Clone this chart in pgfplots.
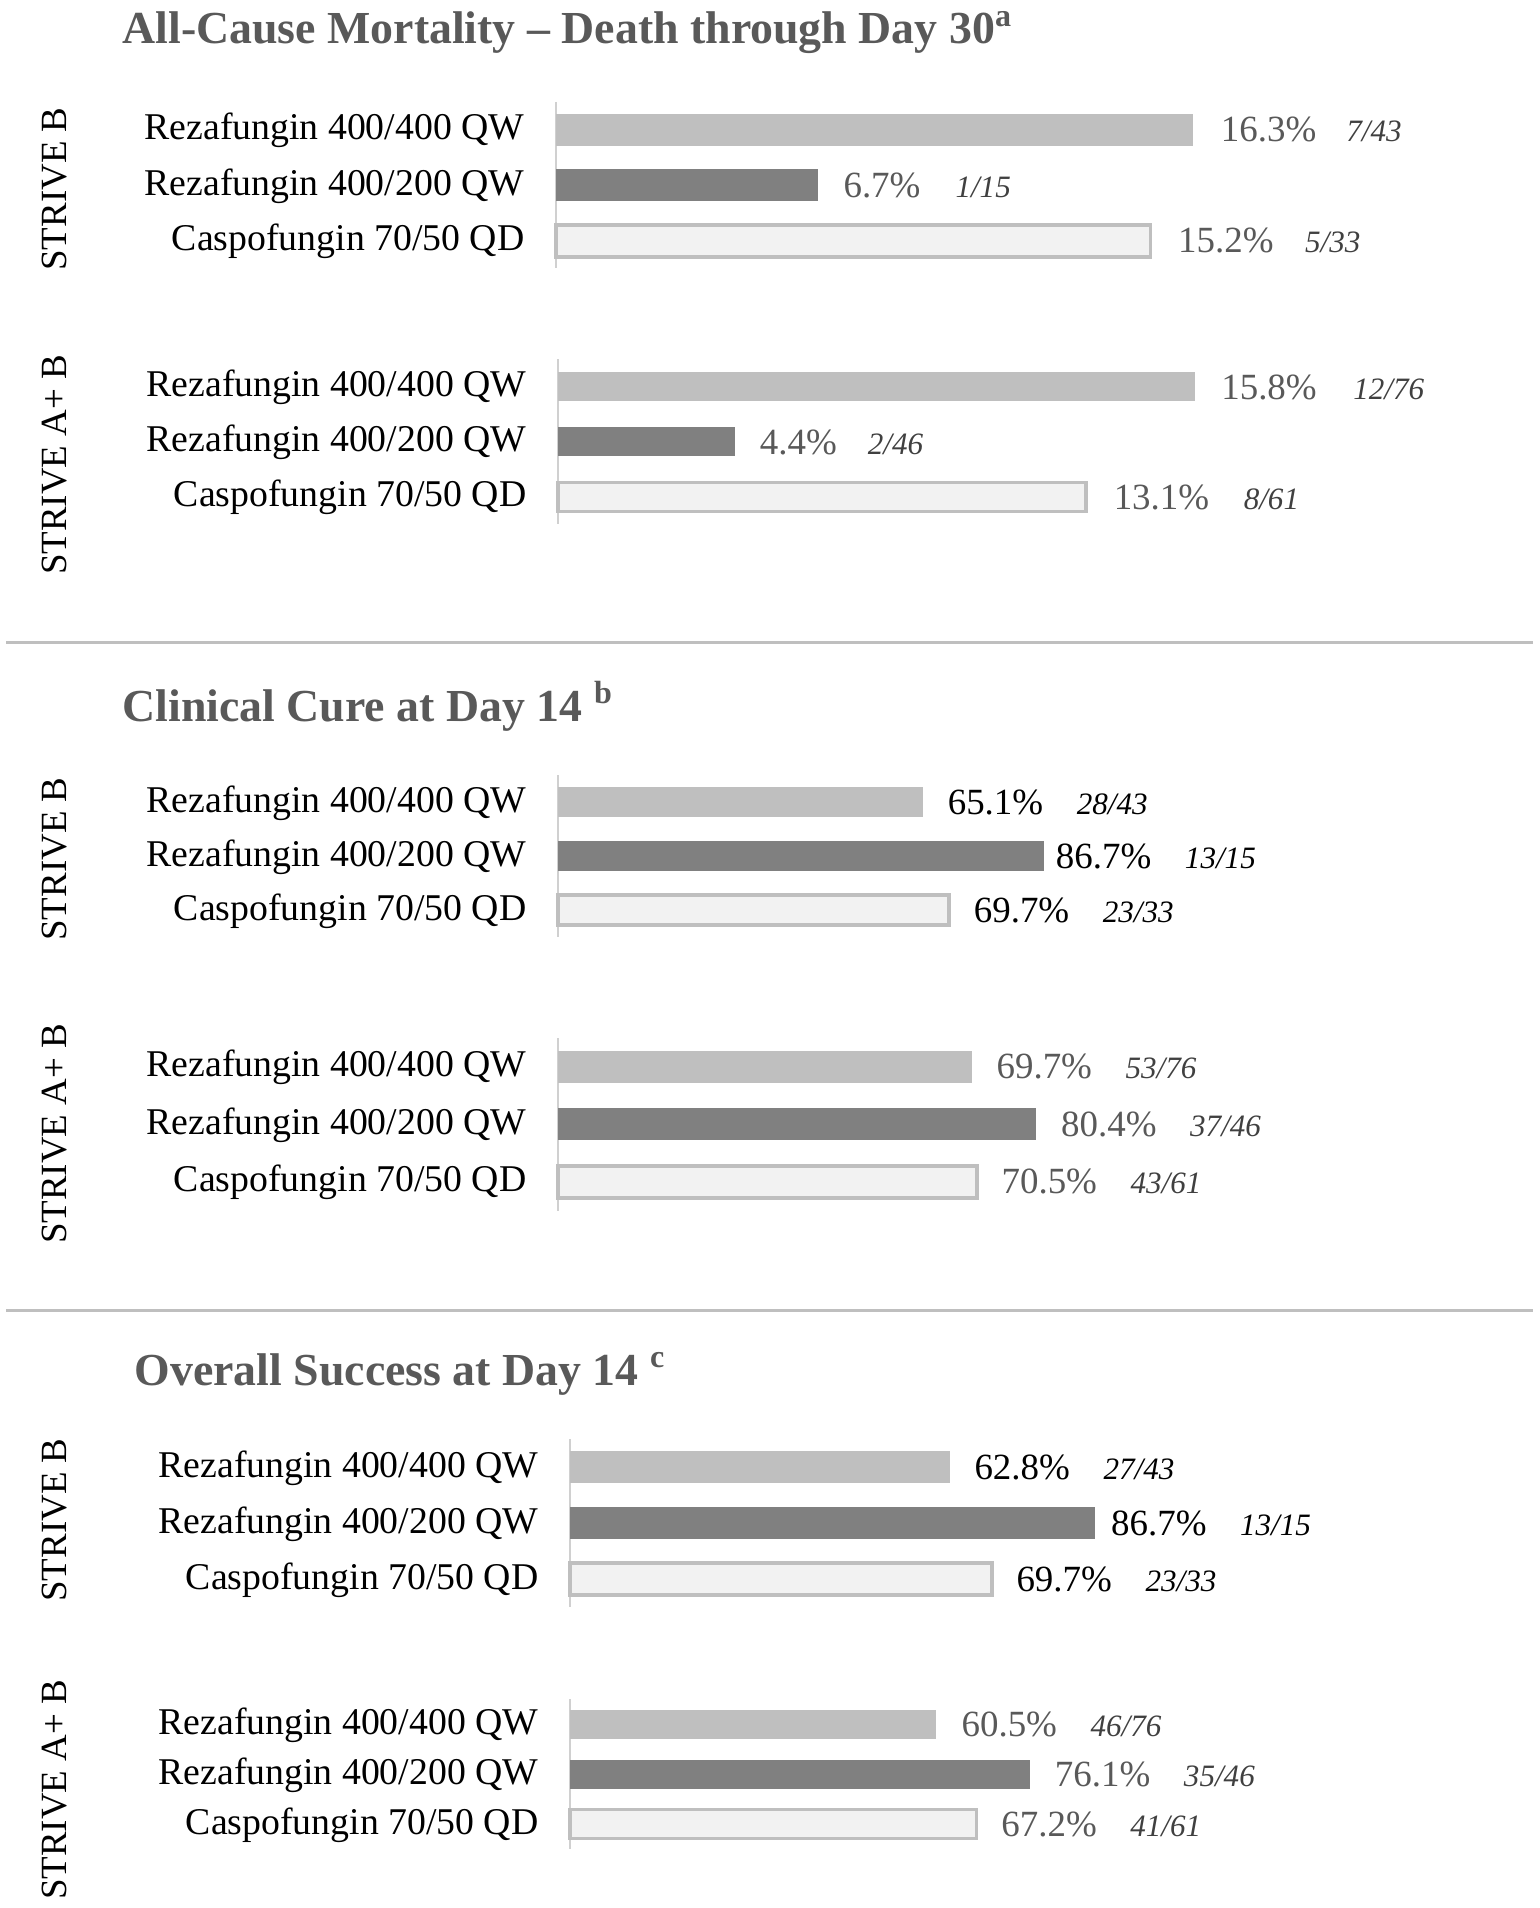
\documentclass[border=0pt]{standalone}
\usepackage{pgfplots}
\pgfplotsset{compat=1.18}
\usepackage{fontspec}
\setmainfont{Liberation Serif}
\definecolor{barA}{HTML}{BFBFBF}
\definecolor{barB}{HTML}{808080}
\definecolor{barC}{HTML}{F2F2F2}
\definecolor{edgeC}{HTML}{BFBFBF}
\definecolor{axgray}{HTML}{D0D0D0}
\definecolor{titlegray}{HTML}{595959}
\definecolor{valgray}{HTML}{595959}
\definecolor{fracgray}{HTML}{404040}
\newlength\myu \setlength\myu{0.36pt}
% percent, fraction, offset, pct colour, frac colour
\newcommand\lab[5]{\makebox[#3\myu][l]{\color{#4}#1\%}{\fontsize{11.2}{13}\selectfont\itshape\color{#5}#2}}
\pgfplotsset{
  panel/.style={
    xbar, scale only axis, xmin=0, ymin=-0.5, ymax=2.5, y dir=reverse,
    axis x line=none, axis y line*=left,
    y axis line style={draw=axgray, line width=0.9pt},
    ytick={0,1,2},
    yticklabels={Rezafungin 400/400 QW, Rezafungin 400/200 QW, Caspofungin 70/50 QD},
    ytick style={draw=none}, major tick length=0pt,
    yticklabel style={anchor=base east, inner sep=0pt, xshift=-31\myu, yshift=-10\myu,
      font=\fontsize{13.6}{16}\selectfont, text=black},
    xtick=\empty, clip=false,
    every axis plot/.append style={bar shift=0pt},
  },
  sA/.style={fill=barA, draw=none},
  sB/.style={fill=barB, draw=none},
  sC/.style={fill=barC, draw=edgeC, line width=1.3pt},
  vl/.style={nodes near coords style={anchor=west, inner sep=0pt, xshift=#1\myu,
      font=\fontsize{13.3}{16}\selectfont}},
}
\begin{document}
\begin{tikzpicture}
\path[use as bounding box] (0,0) rectangle (1539\myu,-1908\myu);

% ---------- titles ----------
\node[anchor=base west, inner sep=0pt, text=titlegray, font=\fontsize{16.5}{19}\selectfont\bfseries]
  at (122\myu,-44\myu) {All-Cause Mortality – Death through Day 30\textsuperscript{a}};
\node[anchor=base west, inner sep=0pt, text=titlegray, font=\fontsize{16.5}{19}\selectfont\bfseries]
  at (122\myu,-721\myu) {Clinical Cure at Day 14 \textsuperscript{b}};
\node[anchor=base west, inner sep=0pt, text=titlegray, font=\fontsize{16.5}{19}\selectfont\bfseries]
  at (134\myu,-1385\myu) {Overall Success at Day 14 \textsuperscript{c}};

% ---------- separators ----------
\draw[edgeC, line width=1.08pt] (6\myu,-643\myu) -- (1533\myu,-643\myu);
\draw[edgeC, line width=1.08pt] (6\myu,-1310\myu) -- (1533\myu,-1310\myu);

% ---------- group labels ----------
\begin{scope}[every node/.style={rotate=90, font=\fontsize{13.3}{16}\selectfont, text=black}]
\node at (55\myu,-189\myu) {STRIVE B};
\node at (55\myu,-465\myu) {STRIVE A+ B};
\node at (55\myu,-859\myu) {STRIVE B};
\node at (55\myu,-1134\myu) {STRIVE A+ B};
\node at (55\myu,-1520\myu) {STRIVE B};
\node at (55\myu,-1790\myu) {STRIVE A+ B};
\end{scope}

% ---------- Mortality, STRIVE B ----------
\begin{axis}[panel, at={(556\myu,-102\myu)}, anchor=north west,
  width=782\myu, height=166.5\myu, xmax=20, bar width=32\myu]
\addplot[sA, vl=27, nodes near coords={\lab{16.3}{7/43}{125.5}{valgray}{fracgray}}] coordinates {(16.3,0)};
\addplot[sB, vl=25, nodes near coords={\lab{6.7}{1/15}{112}{valgray}{fracgray}}] coordinates {(6.7,1)};
\addplot[sC, vl=26, nodes near coords={\lab{15.2}{5/33}{127}{valgray}{fracgray}}] coordinates {(15.2,2)};
\end{axis}

% ---------- Mortality, STRIVE A+B ----------
\begin{axis}[panel, at={(558\myu,-359.5\myu)}, anchor=north west,
  width=806\myu, height=165\myu, xmax=20, bar width=29\myu]
\addplot[sA, vl=26, nodes near coords={\lab{15.8}{12/76}{132}{valgray}{fracgray}}] coordinates {(15.8,0)};
\addplot[sB, vl=24, nodes near coords={\lab{4.4}{2/46}{108}{valgray}{fracgray}}] coordinates {(4.4,1)};
\addplot[sC, vl=26, nodes near coords={\lab{13.1}{8/61}{130}{valgray}{fracgray}}] coordinates {(13.1,2)};
\end{axis}

% ---------- Clinical cure, STRIVE B ----------
\begin{axis}[panel, at={(558\myu,-775\myu)}, anchor=north west,
  width=561\myu, height=162\myu, xmax=100, bar width=30\myu]
\addplot[sA, vl=24, nodes near coords={\lab{65.1}{28/43}{129}{black}{black}}] coordinates {(65.1,0)};
\addplot[sB, vl=11, nodes near coords={\lab{86.7}{13/15}{129}{black}{black}}] coordinates {(86.7,1)};
\addplot[sC, vl=23, nodes near coords={\lab{69.7}{23/33}{129}{black}{black}}] coordinates {(69.7,2)};
\end{axis}

% ---------- Clinical cure, STRIVE A+B ----------
\begin{axis}[panel, at={(558\myu,-1038\myu)}, anchor=north west,
  width=594\myu, height=172.5\myu, xmax=100, bar width=32\myu]
\addplot[sA, vl=24, nodes near coords={\lab{69.7}{53/76}{129}{valgray}{fracgray}}] coordinates {(69.7,0)};
\addplot[sB, vl=25, nodes near coords={\lab{80.4}{37/46}{129}{valgray}{fracgray}}] coordinates {(80.4,1)};
\addplot[sC, vl=23, nodes near coords={\lab{70.5}{43/61}{129}{valgray}{fracgray}}] coordinates {(70.5,2)};
\end{axis}

% ---------- Overall success, STRIVE B ----------
\begin{axis}[panel, at={(570\myu,-1439\myu)}, anchor=north west,
  width=605\myu, height=168\myu, xmax=100, bar width=32\myu]
\addplot[sA, vl=24, nodes near coords={\lab{62.8}{27/43}{129}{black}{black}}] coordinates {(62.8,0)};
\addplot[sB, vl=16, nodes near coords={\lab{86.7}{13/15}{129}{black}{black}}] coordinates {(86.7,1)};
\addplot[sC, vl=23, nodes near coords={\lab{69.7}{23/33}{129}{black}{black}}] coordinates {(69.7,2)};
\end{axis}

% ---------- Overall success, STRIVE A+B ----------
\begin{axis}[panel, at={(570\myu,-1699\myu)}, anchor=north west,
  width=605\myu, height=150\myu, xmax=100, bar width=29\myu]
\addplot[sA, vl=25, nodes near coords={\lab{60.5}{46/76}{129}{valgray}{fracgray}}] coordinates {(60.5,0)};
\addplot[sB, vl=24, nodes near coords={\lab{76.1}{35/46}{129}{valgray}{fracgray}}] coordinates {(76.1,1)};
\addplot[sC, vl=23, nodes near coords={\lab{67.2}{41/61}{129}{valgray}{fracgray}}] coordinates {(67.2,2)};
\end{axis}
\end{tikzpicture}
\end{document}
